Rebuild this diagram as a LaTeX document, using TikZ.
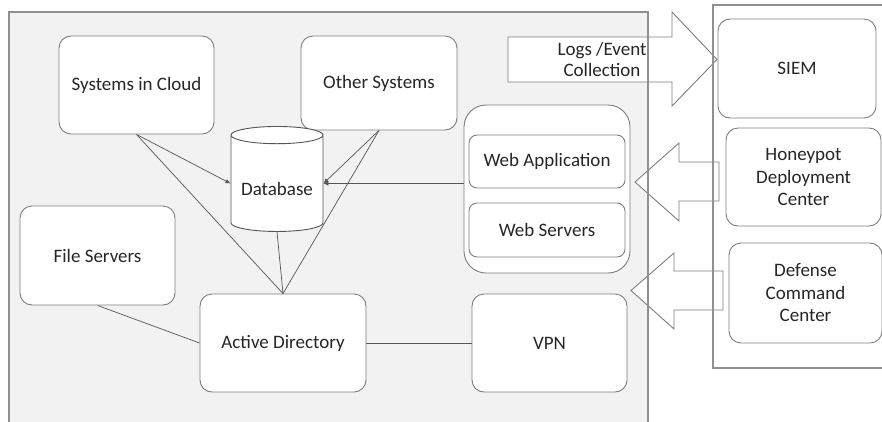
\documentclass[tikz,border=0pt]{standalone}
\usepackage{fontspec}
\setmainfont{Carlito}
\usetikzlibrary{arrows.meta,shapes.geometric,backgrounds}
\definecolor{panelgray}{RGB}{242,242,242}
\definecolor{edgegray}{RGB}{125,125,125}
\definecolor{linegray}{RGB}{85,85,85}
\definecolor{textgray}{RGB}{38,38,38}

\begin{document}
\begin{tikzpicture}[
  x=1pt,y=-1pt,
  box/.style={draw=edgegray,fill=white,rounded corners=12pt,line width=0.9pt,
              minimum width=155pt,minimum height=98pt,inner sep=2pt,
              align=center,text=textgray,font=\fontsize{19}{22.5}\selectfont},
  smallbox/.style={box,rounded corners=8pt,minimum width=156pt,minimum height=53pt},
  group/.style={draw=edgegray,fill=white,rounded corners=22pt,line width=0.9pt,
                minimum width=166pt,minimum height=168pt},
  dbase/.style={cylinder,shape border rotate=90,aspect=0.24,draw=linegray,
                fill=white,line width=0.9pt,minimum width=92pt,minimum height=105pt,
                inner sep=0pt,text=textgray,font=\fontsize{19}{22.5}\selectfont},
  link/.style={draw=linegray,line width=0.7pt},
  feed/.style={link,-{Latex[length=5pt,width=4.5pt]}},
  blockarrow/.style={draw=edgegray,fill=white,line width=0.9pt,line join=miter},
  panel/.style={draw=edgegray!85,line width=1.4pt},
  label/.style={align=center,text=textgray,font=\fontsize{19}{21}\selectfont}
]
\useasboundingbox (0,0) rectangle (882,421);

% boxes inside the network
\node[box] (cloud)    at (136.5,85)  {Systems in Cloud};
\node[box,minimum width=156pt,minimum height=94pt] (other) at (379,83) {Other Systems};
\node[dbase] (db)     at (277,183.5) {\raisebox{-12pt}[0pt][0pt]{Database}};
\node[box,minimum height=99pt] (files) at (97.5,255.5) {File Servers};
\node[box,minimum width=166pt] (ad) at (283,343) {Active Directory};
\node[box] (vpn)      at (549.5,343) {VPN};
\node[group] (web)    at (547,189)   {};
\node[smallbox] (webapp) at (547,161.5) {Web Application};
\node[smallbox,minimum height=54pt] (websrv) at (547,230) {Web Servers};

% defense side
\node[box,minimum width=158pt,minimum height=99pt] (siem) at (797,68.5) {SIEM};
\node[box] (honey)    at (803.5,177) {Honeypot\\Deployment\\Center};
\node[box,minimum width=153pt,minimum height=100pt] (defense) at (805.5,293)
  {Defense\\Command\\Center};

\begin{pgfonlayer}{background}
  \fill[panelgray] (9,12) rectangle (648,440);
  \fill[white] (713,5) rectangle (900,368);
  \draw[feed] (cloud.south) -- (db.west);
  \draw[link] (cloud.south) -- (ad.north);
  \draw[feed] (other.south) -- (db.east);
  \draw[link] (other.south) -- (ad.north);
  \draw[link] (db.south) -- (ad.north);
  \draw[feed] (db.east -| webapp.west) -- (db.east);
  \draw[link] (files.south) -- (ad.west);
  \draw[link] (ad.east) -- (vpn.west);
\end{pgfonlayer}

% block arrows
\draw[blockarrow] (508,37) -- (672,37) -- (672,12) -- (717,59.5)
  -- (672,106) -- (672,82) -- (508,82) -- cycle;
\node[label] (logs) at (602,59.5) {Logs /Event\\Collection};
\draw[blockarrow] (719,162) -- (679,162) -- (679,143) -- (635,182)
  -- (679,221) -- (679,201) -- (719,201) -- cycle;
\draw[blockarrow] (723,271) -- (674,271) -- (674,253) -- (631,290.5)
  -- (674,329) -- (674,310) -- (723,310) -- cycle;

% panel borders
\draw[panel] (9,440) -- (9,12) -- (648,12) -- (648,440);
\draw[panel] (900,5) -- (713,5) -- (713,368) -- (900,368);
\end{tikzpicture}
\end{document}
